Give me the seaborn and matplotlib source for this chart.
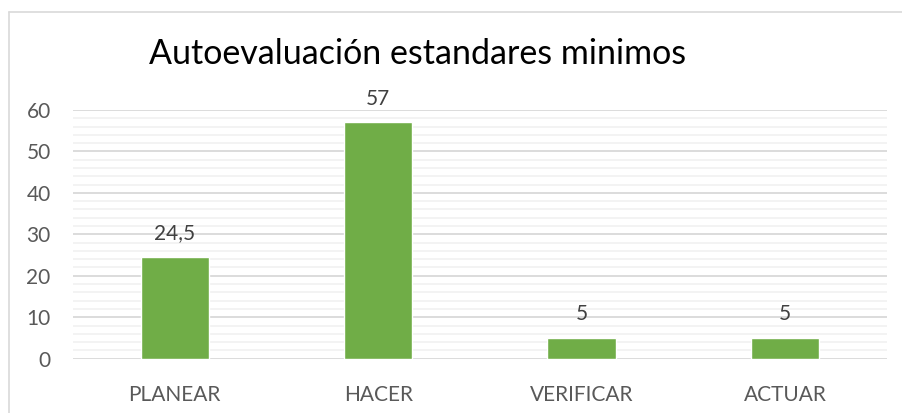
import pandas as pd
import matplotlib.pyplot as plt
import seaborn as sns
from matplotlib.ticker import MultipleLocator
from matplotlib.lines import Line2D

# Data
categorias = ["PLANEAR", "HACER", "VERIFICAR", "ACTUAR"]
valores = [24.5, 57, 5, 5]
titulo = "Autoevaluación estandares minimos"

df = pd.DataFrame({"fase": categorias, "puntaje": valores})

sns.set_style("white")
plt.rcParams['font.family'] = ['Lato', 'DejaVu Sans']

fig = plt.figure(figsize=(9.03, 4.13), dpi=100)
ax = fig.add_axes([0.0808, 0.1315, 0.9012, 0.6022])

sns.barplot(data=df, x="fase", y="puntaje", color="#70AD47", width=0.335,
            saturation=1, ax=ax, zorder=3)

ax.set_xlim(-0.5, 3.5)
ax.set_ylim(0, 60)
ax.yaxis.set_major_locator(MultipleLocator(10))
ax.yaxis.set_minor_locator(MultipleLocator(2))
ax.grid(which="major", axis="y", color="#d9d9d9", linewidth=1.3, zorder=0)
ax.grid(which="minor", axis="y", color="#f2f2f2", linewidth=1.3, zorder=0)
ax.set_axisbelow(True)
for s in ax.spines.values():
    s.set_visible(False)

ax.set_xlabel("")
ax.set_ylabel("")
ax.tick_params(axis="both", which="both", length=0, labelsize=15, colors="#595959")
ax.tick_params(axis="x", pad=19)
ax.tick_params(axis="y", pad=16)

# data labels with comma decimals
etiquetas = [f"{v:g}".replace(".", ",") for v in valores]
ax.bar_label(ax.containers[0], labels=etiquetas, padding=10, fontsize=15, color="#404040")

fig.text(0.4624, 1 - 64 / 413, titulo, ha="center", va="baseline", fontsize=24.5, color="black")

# outer chart border (left and top visible)
fig.add_artist(Line2D([9.5 / 903, 9.5 / 903], [0, 1 - 12 / 413], color="#d9d9d9", linewidth=1.2))
fig.add_artist(Line2D([9 / 903, 1], [1 - 12 / 413, 1 - 12 / 413], color="#d9d9d9", linewidth=1.2))

fig.savefig("out.png", dpi=100)
